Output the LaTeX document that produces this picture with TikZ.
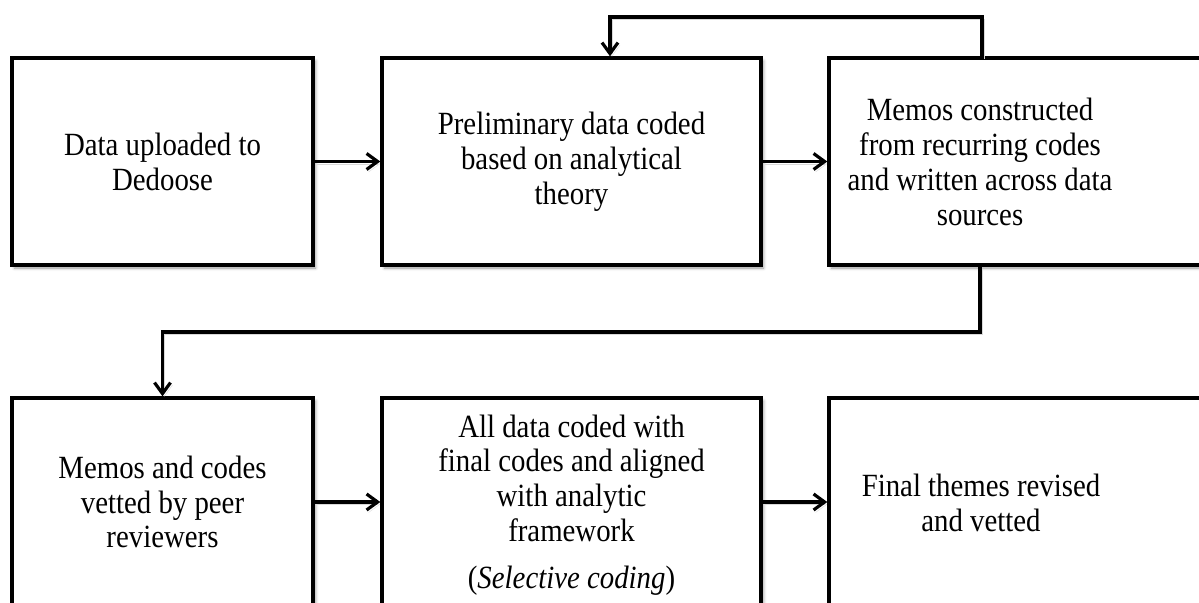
\documentclass[tikz,border=0pt]{standalone}
\usepackage{fontspec}
\setmainfont[FakeStretch=0.89]{Liberation Serif}
\usetikzlibrary{arrows.meta,shadows.blur}
\tikzset{
  box/.style={draw=black, line width=3.4bp, fill=white, rectangle, inner sep=0pt,
    blur shadow={shadow xshift=2.5bp, shadow yshift=-3bp, shadow blur radius=3bp, shadow opacity=40}},
  txt/.style={align=center, inner sep=0pt, font=\fontsize{32.5}{35}\selectfont},
  arr/.style={line width=3.2bp, -{Straight Barb[length=11bp,width=16bp,line width=3.2bp]},
    preaction={draw=black!15, transform canvas={xshift=2bp, yshift=-2.5bp}}},
}
\begin{document}
\begin{tikzpicture}[x=1bp, y={(0bp,-1bp)}]
\useasboundingbox (0,0) rectangle (1199,603);
% top row
\node[box, minimum width=301bp, minimum height=207bp] (b1) at (162.5,161.5) {};
\node[box, minimum width=379bp, minimum height=207bp] (b2) at (571.5,161.5) {};
\node[box, minimum width=390bp, minimum height=207bp] (b3) at (1024,161.5) {};
% bottom row
\node[box, minimum width=301bp, minimum height=208bp] (b4) at (162.5,502) {};
\node[box, minimum width=379bp, minimum height=208bp] (b5) at (571.5,502) {};
\node[box, minimum width=390bp, minimum height=208bp] (b6) at (1024,502) {};
% texts
\node[txt] (t1) at (b1.center) {Data uploaded to\\Dedoose};
\node[txt] (t2) at (b2.center) {Preliminary data coded\\based on analytical\\theory};
\node[txt] (t3) at (980,162) {Memos constructed\\from recurring codes\\and written across data\\sources};
\node[txt] (t4) at (b4.center) {Memos and codes\\vetted by peer\\reviewers};
\node[txt] (t5) at (571.5,505) {All data coded with\\final codes and aligned\\with analytic\\framework\\[12bp](\textit{Selective coding})};
\node[txt] (t6) at (981,503) {Final themes revised\\and vetted};
% connectors
\draw[arr] (b1.east) -- (b2.west);
\draw[arr] (b2.east) -- (b3.west);
\draw[arr] (b4.east) -- (b5.west);
\draw[arr] (b5.east) -- (b6.west);
\coordinate (f1) at (982,17);
\coordinate (f2) at (610,17);
\draw[arr] (b3.north -| f1) -- (f1) -- (f2) -- (b2.north -| f2);
\coordinate (d1) at (980,332);
\coordinate (d2) at (162.5,332);
\draw[arr] (b3.south -| d1) -- (d1) -- (d2) -- (b4.north);
\end{tikzpicture}
\end{document}
